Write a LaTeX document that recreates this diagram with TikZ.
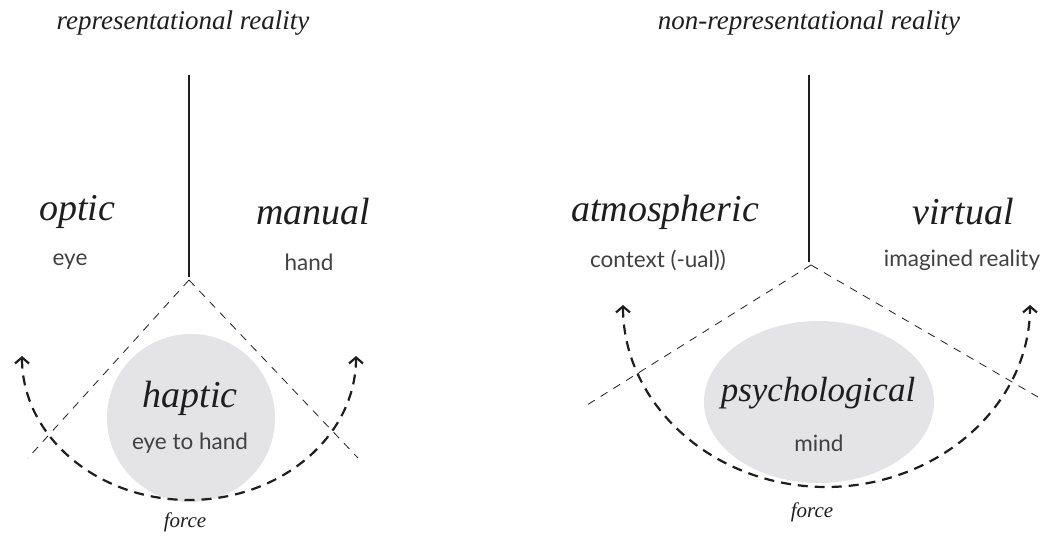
\documentclass[tikz,border=0pt]{standalone}
\usepackage{fontspec}
\setmainfont{Liberation Serif}
\newfontfamily\labelsans{Lato}
\usetikzlibrary{arrows.meta}
\definecolor{inkdark}{HTML}{1E1E1E}
\definecolor{inksans}{HTML}{404040}
\definecolor{blobgray}{HTML}{E4E4E6}
\tikzset{
  title/.style={font=\fontsize{27}{29}\selectfont\itshape, text=inkdark, inner sep=0pt},
  bigword/.style={font=\fontsize{38}{40}\selectfont\itshape, text=inkdark, inner sep=0pt},
  smallword/.style={font=\labelsans\fontsize{22.5}{24}\selectfont, text=inksans, inner sep=0pt},
  forceword/.style={font=\fontsize{21}{23}\selectfont\itshape, text=inkdark, inner sep=0pt},
  axis/.style={draw=inkdark, line width=2pt},
  guide/.style={draw=inkdark, line width=0.8pt, dash pattern=on 8pt off 7pt},
  forcearc/.style={draw=inkdark, line width=2.2pt, dash pattern=on 10pt off 7pt,
    {Straight Barb[length=6pt,width=14pt]}-{Straight Barb[length=6pt,width=14pt]}},
  blob/.style={fill=blobgray, draw=none},
}
\begin{document}
\begin{tikzpicture}[x=1pt,y=-1pt]
\useasboundingbox (0,0) rectangle (1047,540);

% ---------- left panel ----------
\node[title] (ltitle) at (183,23) {representational reality};
\coordinate (ltop) at (189,75);
\coordinate (lapex) at (189,280);
\draw[axis] (ltop) -- (189,277);
\coordinate (lgl) at (28,458);
\coordinate (lgr) at (358,458);
\draw[guide] (lapex) -- (lgl);
\draw[guide] (lapex) -- (lgr);
\fill[blob] (191,418) circle[radius=84];
\node[bigword] (optic) at (77,212) {optic};
\node[smallword] (eye) at (70,262) {eye};
\node[bigword] (manual) at (313,212) {manual};
\node[smallword] (hand) at (309,262) {hand};
\node[bigword] (haptic) at (190,398) {haptic};
\node[smallword] (eyehand) at (190,443) {eye to hand};
\coordinate (lal) at (22,356);
\coordinate (lab) at (189,500);
\coordinate (lar) at (356,356);
\draw[forcearc] (lal) .. controls (22,436) and (97,500) .. (lab)
  .. controls (281,500) and (356,436) .. (lar);
\node[forceword] (lforce) at (185,522) {force};

% ---------- right panel ----------
\node[title] (rtitle) at (809,23) {non-representational reality};
\coordinate (rtop) at (809,75);
\coordinate (rapex) at (811,265);
\draw[axis] (rtop) -- (809,262);
\coordinate (rgl) at (587,405);
\coordinate (rgr) at (1038,397);
\draw[guide] (rapex) -- (rgl);
\draw[guide] (rapex) -- (rgr);
\fill[blob] (819,402) ellipse[x radius=115, y radius=81];
\node[bigword] (atmo) at (665,212) {atmospheric};
\node[smallword] (context) at (658,260) {context (-ual))};
\node[bigword] (virtual) at (963,212) {virtual};
\node[smallword] (imag) at (962,260) {imagined reality};
\node[bigword, font=\fontsize{35}{37}\selectfont\itshape] (psych) at (818,393) {psychological};
\node[smallword] (mind) at (819,443) {mind};
\coordinate (ral) at (623,305);
\coordinate (rab) at (826,487);
\coordinate (rar) at (1030,305);
\draw[forcearc] (ral) .. controls (623,405) and (714,487) .. (rab)
  .. controls (938,487) and (1030,405) .. (rar);
\node[forceword] (rforce) at (812,512) {force};
\end{tikzpicture}
\end{document}
